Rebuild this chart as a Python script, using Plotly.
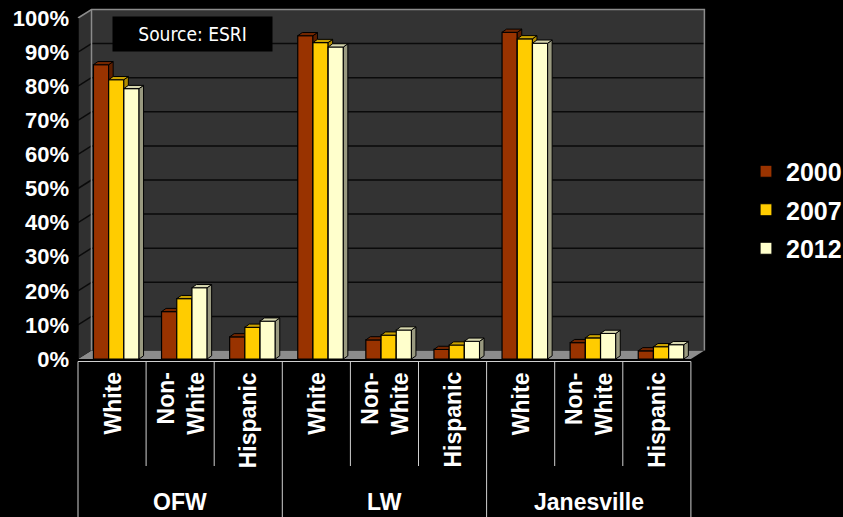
import plotly.graph_objects as go

# ---------------- data ----------------
groups = ["OFW", "LW", "Janesville"]
subcats = ["White", "Non-<br>White", "Hispanic"]
years = ["2000", "2007", "2012"]
pct_2000 = [86.3, 13.9, 6.5, 94.8, 5.6, 2.8, 95.8, 4.8, 2.4]
pct_2007 = [81.9, 17.7, 9.3, 92.8, 7.0, 4.1, 93.9, 6.2, 3.6]
pct_2012 = [79.3, 20.9, 11.1, 91.5, 8.5, 5.2, 92.6, 7.5, 4.2]
y_ticks = [0, 10, 20, 30, 40, 50, 60, 70, 80, 90, 100]
y_tick_labels = ["0%", "10%", "20%", "30%", "40%", "50%", "60%", "70%", "80%", "90%", "100%"]
source_text = "Source: ESRI"

# ---------------- style ----------------
front_colors = ["#993300", "#FFCC00", "#FFFFCC"]
top_colors = ["#742700", "#CCA300", "#D6D6AE"]
side_colors = ["#5E1F00", "#B08C00", "#9A9A80"]
FONT = "Liberation Sans, Arial, sans-serif"
NARROW = "Liberation Sans Narrow, Arial Narrow, DejaVu Sans Condensed, Liberation Sans, sans-serif"

W, H = 843, 517
PLOT_L, PLOT_R, PLOT_T, PLOT_B = 70, 712, 5, 362
CAT_PX = 68.1          # pixel width of one category
CAT0_LEFT_PX = 78      # pixel of left edge of first category (front plane)
PCT_PX = 3.41          # pixels per percent
ZERO_PX = 359.0        # pixel of 0% on front plane
BAR_PX, SHIFT_PX = 15.2, 4.2
DEPTH_X_PX, DEPTH_Y_PX = 4.5, 3.2    # bar depth
WALL_X_PX, WALL_Y_PX = 13.5, 8.5     # back wall depth

n = len(pct_2000)
series = [pct_2000, pct_2007, pct_2012]

x_range = [-0.5 - (CAT0_LEFT_PX - PLOT_L) / CAT_PX, -0.5 + (PLOT_R - CAT0_LEFT_PX) / CAT_PX]
y_range = [-(PLOT_B - ZERO_PX) / PCT_PX, (ZERO_PX - PLOT_T) / PCT_PX]

bw = BAR_PX / CAT_PX
shift = SHIFT_PX / CAT_PX
ddx, ddy = DEPTH_X_PX / CAT_PX, DEPTH_Y_PX / PCT_PX
BX, BY = WALL_X_PX / CAT_PX, WALL_Y_PX / PCT_PX
xl, xr = -0.5, n - 0.5

fig = go.Figure()

for k, (year, vals) in enumerate(zip(years, series)):
    ax = str(k + 2)
    off = shift + (k - 1.5) * bw
    fig.add_trace(go.Bar(
        x=list(range(n)), y=vals, width=bw, offset=off, name=year,
        marker=dict(color=front_colors[k], line=dict(color="black", width=1.2)),
        xaxis="x" + ax, yaxis="y" + ax, legendgroup=year,
    ))
    # 3-D faces (top and side) derived from values
    tx, ty, sx, sy = [], [], [], []
    for i, v in enumerate(vals):
        x0 = i + off
        x1 = x0 + bw
        tx += [x0, x0 + ddx, x1 + ddx, x1, x0, None]
        ty += [v, v + ddy, v + ddy, v, v, None]
        sx += [x1, x1, x1 + ddx, x1 + ddx, x1, None]
        sy += [0, v, v + ddy, ddy, 0, None]
    for fx, fy, col in ((sx, sy, side_colors[k]), (tx, ty, top_colors[k])):
        fig.add_trace(go.Scatter(
            x=fx, y=fy, mode="lines", fill="toself", fillcolor=col,
            line=dict(color="black", width=1), showlegend=False,
            hoverinfo="skip", xaxis="x" + ax, yaxis="y" + ax, legendgroup=year,
        ))

shapes = []
# floor
shapes.append(dict(type="path", xref="x", yref="y", layer="below",
                   path=f"M{xl},0 L{xr},0 L{xr+BX},{BY} L{xl+BX},{BY} Z",
                   fillcolor="#8C8C8C", line=dict(width=0)))
# left wall
shapes.append(dict(type="path", xref="x", yref="y", layer="below",
                   path=f"M{xl},0 L{xl+BX},{BY} L{xl+BX},{100+BY} L{xl},100 Z",
                   fillcolor="#303030", line=dict(width=0)))
# back wall
shapes.append(dict(type="rect", xref="x", yref="y", layer="below",
                   x0=xl + BX, x1=xr + BX, y0=BY, y1=100 + BY,
                   fillcolor="#333333", line=dict(width=0)))
# gridlines
for v in y_ticks[1:-1]:
    shapes.append(dict(type="line", xref="x", yref="y", layer="below",
                       x0=xl + BX, x1=xr + BX, y0=v + BY, y1=v + BY,
                       line=dict(color="#0A0A0A", width=1.5)))
    shapes.append(dict(type="line", xref="x", yref="y", layer="below",
                       x0=xl, x1=xl + BX, y0=v, y1=v + BY,
                       line=dict(color="#0A0A0A", width=1.5)))
# edges
edge = dict(color="#8C8C8C", width=1.5)
shapes.append(dict(type="path", xref="x", yref="y", layer="below",
                   path=f"M{xl},100 L{xl+BX},{100+BY} L{xr+BX},{100+BY} L{xr+BX},{BY}",
                   line=edge))
shapes.append(dict(type="line", xref="x", yref="y", layer="below",
                   x0=xl + BX, x1=xl + BX, y0=BY, y1=100 + BY, line=edge))
shapes.append(dict(type="line", xref="x", yref="y", layer="below",
                   x0=xl, x1=xl, y0=0, y1=100, line=dict(color="black", width=1.5)))

# category table below
plot_h = PLOT_B - PLOT_T
def py(px):
    return (PLOT_B - px) / plot_h

shapes.append(dict(type="line", xref="x", yref="paper", x0=xl, x1=xr, y0=py(361.5), y1=py(361.5),
                   line=dict(color="#D0D0D0", width=1)))
for i in range(n + 1):
    bottom = py(H) if i % 3 == 0 else py(466)
    shapes.append(dict(type="line", xref="x", yref="paper", x0=i - 0.5, x1=i - 0.5,
                       y0=py(361.5), y1=bottom, line=dict(color="#D0D0D0", width=1)))

annotations = []
for i in range(n):
    annotations.append(dict(xref="x", yref="paper", x=i, y=py(370), xanchor="center",
                            yanchor="top", textangle=-90, align="right", showarrow=False,
                            text=subcats[i % 3],
                            font=dict(family=FONT, size=23, color="white", weight="bold")))
for g, name in enumerate(groups):
    annotations.append(dict(xref="x", yref="paper", x=3 * g + 1, y=py(502), xanchor="center",
                            yanchor="middle", showarrow=False, text=name,
                            font=dict(family=FONT, size=23, color="white", weight="bold")))
annotations.append(dict(xref="paper", yref="paper", x=(192 - PLOT_L) / (PLOT_R - PLOT_L),
                        y=py(33.7), xanchor="center", yanchor="middle", showarrow=False,
                        text=source_text, bgcolor="black", width=159, height=34, borderpad=0,
                        font=dict(family=NARROW, size=19, color="white")))

axis_common = dict(showgrid=False, zeroline=False, showline=False, ticks="")
layout = dict(
    width=W, height=H,
    margin=dict(l=PLOT_L, r=W - PLOT_R, t=PLOT_T, b=H - PLOT_B, pad=0),
    paper_bgcolor="black", plot_bgcolor="black",
    barmode="overlay",
    xaxis=dict(range=x_range, showticklabels=False, **axis_common),
    yaxis=dict(range=y_range, tickvals=y_ticks, ticktext=y_tick_labels,
               tickfont=dict(family=FONT, size=22, color="white", weight="bold"),
               **axis_common),
    shapes=shapes, annotations=annotations,
    legend=dict(xref="container", yref="container", x=746 / W, y=1 - 210 / H,
                xanchor="left", yanchor="middle", tracegroupgap=3,
                font=dict(family=FONT, size=25, color="white", weight="bold"),
                bgcolor="rgba(0,0,0,0)"),
    showlegend=True,
)
for k in range(3):
    ax = str(k + 2)
    layout["xaxis" + ax] = dict(range=x_range, overlaying="x", anchor="y" + ax, visible=False)
    layout["yaxis" + ax] = dict(range=y_range, overlaying="y", anchor="x" + ax, visible=False)

fig.update_layout(**layout)
fig.write_html("out.html")
